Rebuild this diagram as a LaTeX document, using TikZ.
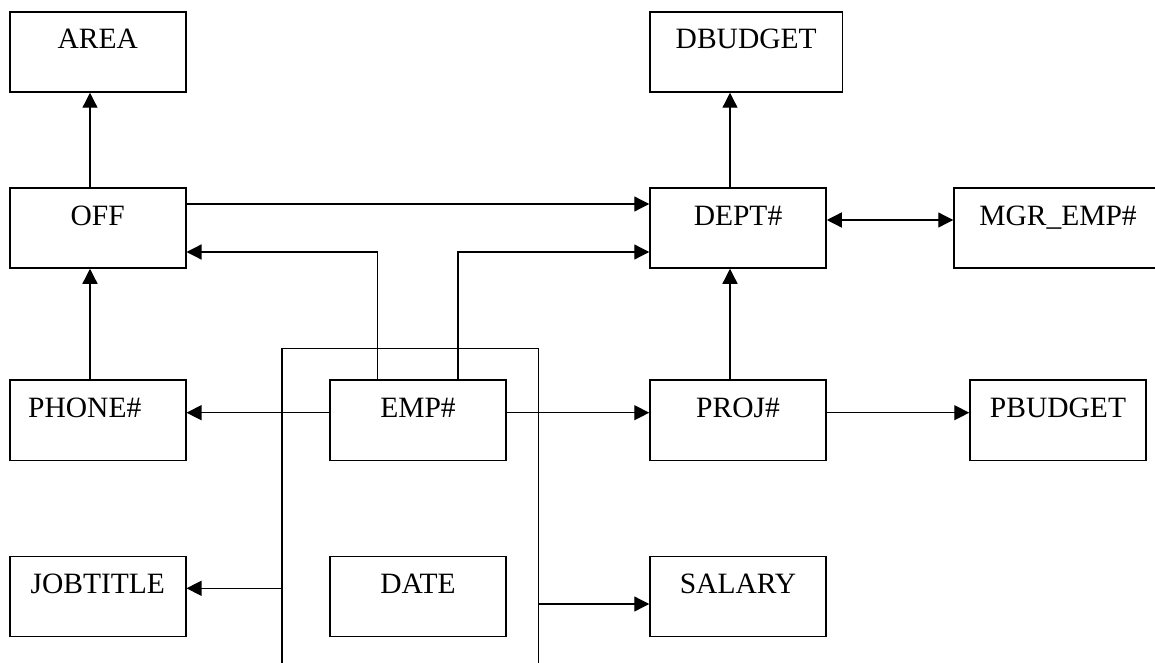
\documentclass[tikz,border=0pt]{standalone}
\usepackage{fontspec}
\setmainfont{Liberation Serif}
\usetikzlibrary{arrows.meta,calc}
\begin{document}
\begin{tikzpicture}[x=1pt,y=-1pt,
  box/.style={draw,line width=1.5pt,inner xsep=0pt,inner ysep=0pt,
    minimum width=176pt,text height=37pt,text depth=43pt,
    font=\fontsize{29.5}{34}\selectfont},
  conn/.style={line width=1.3pt},
  arr/.style={conn,-{Triangle[length=15pt,width=15pt]}},
  darr/.style={conn,{Triangle[length=15pt,width=15pt]}-{Triangle[length=15pt,width=15pt]}}]
\useasboundingbox (0,0) rectangle (1155,663);
% boxes
\node[box] (area) at (97.75,52) {AREA};
\node[box,minimum width=192.3pt] (dbudget) at (746.2,52) {DBUDGET};
\node[box] (off) at (97.75,228) {OFF};
\node[box] (dept) at (738,228) {DEPT\#};
\node[box,minimum width=208pt] (mgr) at (1058,228) {MGR\_EMP\#};
\node[box,text depth=43.5pt] (phone) at (97.75,420.25) {PHONE\#\hspace*{26pt}};
\node[box,text depth=43.5pt] (emp) at (418,420.25) {EMP\#};
\node[box,text depth=43.5pt] (proj) at (738,420.25) {PROJ\#};
\node[box,text depth=43.5pt] (pbudget) at (1058,420.25) {PBUDGET};
\node[box] (jobtitle) at (97.75,596.5) {JOBTITLE};
\node[box] (date) at (418,596.5) {DATE};
\node[box] (salary) at (738,596.5) {SALARY};
% reference coordinates
\coordinate (xoff) at (90,0);
\coordinate (xdept) at (730,0);
\coordinate (xe1) at (377.7,0);
\coordinate (xe2) at (458,0);
\coordinate (y1) at (0,204);
\coordinate (y2) at (0,252);
\coordinate (y3) at (0,220);
\coordinate (y4) at (0,412.7);
\coordinate (y5) at (0,588.3);
\coordinate (y6) at (0,604);
\coordinate (bl) at (282,348.3);
\coordinate (br) at (538.5,348.3);
\coordinate (blb) at (282,670);
\coordinate (brb) at (538.5,670);
% connectors
\draw[arr] (off.north -| xoff) -- (area.south -| xoff);
\draw[arr] (dept.north -| xdept) -- (dbudget.south -| xdept);
\draw[arr] (off.east |- y1) -- (dept.west |- y1);
\draw[arr] (emp.north -| xe1) -- (xe1 |- y2) -- (off.east |- y2);
\draw[arr] (emp.north -| xe2) -- (xe2 |- y2) -- (dept.west |- y2);
\draw[darr] (dept.east |- y3) -- (mgr.west |- y3);
\draw[arr] (phone.north -| xoff) -- (off.south -| xoff);
\draw[arr] (proj.north -| xdept) -- (dept.south -| xdept);
\draw[arr] (emp.west |- y4) -- (phone.east |- y4);
\draw[arr] (emp.east |- y4) -- (proj.west |- y4);
\draw[arr] (proj.east |- y4) -- (pbudget.west |- y4);
% bracket
\draw[conn] (blb) -- (bl) -- (br) -- (brb);
\draw[arr] (bl |- y5) -- (jobtitle.east |- y5);
\draw[arr] (br |- y6) -- (salary.west |- y6);
\end{tikzpicture}
\end{document}
